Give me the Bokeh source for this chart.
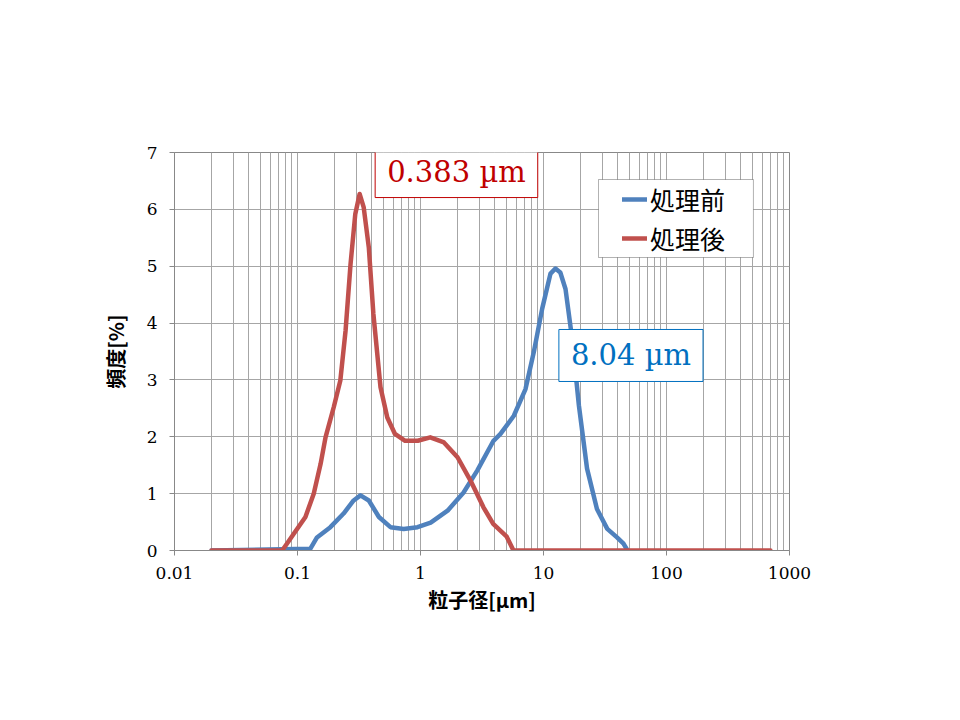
from bokeh.plotting import figure
from bokeh.models import (Range1d, FixedTicker, Legend, LegendItem, Label,
                          BoxAnnotation)
from bokeh.embed import file_html
from bokeh.resources import INLINE

# ---- data ----
before_x = [0.02, 0.127, 0.144, 0.185, 0.237, 0.286, 0.325, 0.38, 0.459, 0.57,
            0.73, 0.946, 1.21, 1.66, 2.24, 2.9, 3.92, 4.47, 5.74, 7.14, 8.34,
            9.75, 11.4, 12.5, 13.7, 15.1, 17.1, 19.4, 22.6, 27.2, 33.0, 39.6,
            44.7, 48.2]
before_y = [0, 0.03, 0.23, 0.41, 0.65, 0.88, 0.97, 0.88, 0.59, 0.41,
            0.38, 0.41, 0.49, 0.7, 1.02, 1.41, 1.93, 2.05, 2.37, 2.84, 3.49,
            4.25, 4.87, 4.96, 4.89, 4.6, 3.72, 2.55, 1.44, 0.73, 0.38, 0.23,
            0.12, 0]

after_x = [0.02, 0.075, 0.082, 0.093, 0.116, 0.1355, 0.154, 0.169, 0.197, 0.223,
           0.246, 0.27, 0.295, 0.32, 0.345, 0.38, 0.414, 0.473, 0.537, 0.62,
           0.75, 0.95, 1.2, 1.55, 2.0, 2.55, 3.25, 3.9, 5.0, 5.7, 700]
after_y = [0, 0, 0.12, 0.29, 0.59, 1.0, 1.52, 1.99, 2.52, 2.99,
           3.87, 5.04, 5.92, 6.27, 6.04, 5.33, 4.16, 2.87, 2.34, 2.05,
           1.93, 1.93, 1.99, 1.9, 1.64, 1.23, 0.76, 0.47, 0.25, 0, 0]

series_names = ["処理前", "処理後"]
peak_labels = ["8.04 µm", "0.383 µm"]

x_ticks = [0.01, 0.1, 1, 10, 100, 1000]
x_tick_labels = ["0.01", "0.1", "1", "10", "100", "1000"]
x_minor = [m * 10.0 ** e for e in range(-2, 3) for m in range(2, 10)]
y_ticks = [0, 1, 2, 3, 4, 5, 6, 7]

x_title = "粒子径[µm]"
y_title = "頻度[%]"

BLUE = "#4F81BD"
RED = "#C0504D"
GRID = "#A6A6A6"
SERIF = "DejaVu Serif"
CJK = "Noto Sans CJK JP"

p = figure(width=958, height=718, x_axis_type="log",
           x_range=Range1d(0.01, 1000), y_range=Range1d(0, 7),
           output_backend="svg", toolbar_location=None,
           min_border_left=174, min_border_right=169,
           min_border_top=152, min_border_bottom=168)

p.background_fill_color = "white"
p.border_fill_color = "white"
p.outline_line_color = "#888888"
p.outline_line_width = 1

# axes
p.xaxis.ticker = FixedTicker(ticks=x_ticks, minor_ticks=x_minor)
p.xaxis.major_label_overrides = dict(zip(x_ticks, x_tick_labels))
p.yaxis.ticker = FixedTicker(ticks=y_ticks)
for ax in (p.xaxis, p.yaxis):
    ax.axis_line_color = "#888888"
    ax.major_tick_line_color = "#888888"
    ax.major_tick_out = 5
    ax.major_tick_in = 0
    ax.minor_tick_out = 0
    ax.minor_tick_in = 0
    ax.major_label_text_font = SERIF
    ax.major_label_text_font_size = "17px"
    ax.major_label_text_color = "black"
    ax.axis_label_text_font = CJK
    ax.axis_label_text_font_style = "bold"
    ax.axis_label_text_font_size = "20px"
    ax.axis_label_text_color = "black"
p.xaxis.major_label_standoff = 11
p.yaxis.major_label_standoff = 12
p.xaxis.axis_label = x_title
p.yaxis.axis_label = y_title
p.xaxis.axis_label_standoff = 3
p.yaxis.axis_label_standoff = 14

# grid
p.xgrid.grid_line_color = GRID
p.xgrid.minor_grid_line_color = GRID
p.ygrid.grid_line_color = GRID
p.xgrid.grid_line_width = 1
p.ygrid.grid_line_width = 1

# lines
r_before = p.line(before_x, before_y, line_color=BLUE, line_width=4.5,
                  line_join="round", line_cap="round")
r_after = p.line(after_x, after_y, line_color=RED, line_width=4.5,
                 line_join="round", line_cap="round")

# legend frame
legend_box = BoxAnnotation(left=28.0, right=509, bottom=5.153, top=6.525,
                           fill_color="white", fill_alpha=1.0,
                           line_color="black", line_width=1)
p.add_layout(legend_box)

legend = Legend(items=[LegendItem(label=series_names[0], renderers=[r_before]),
                       LegendItem(label=series_names[1], renderers=[r_after])],
                location=(448, 294), padding=0, margin=0, spacing=3,
                border_line_color=None, background_fill_alpha=0,
                label_text_font=CJK, label_text_font_size="25px",
                label_text_color="black", label_standoff=3,
                glyph_width=25, glyph_height=36, label_height=36)
p.add_layout(legend)

# peak annotations
lab_after = Label(x=1.96, y=6.665, text=peak_labels[1],
                  text_align="center", text_baseline="middle",
                  text_font=SERIF, text_font_size="29px", text_color="#C00000",
                  background_fill_color="white", border_line_color="#C00000",
                  border_line_width=1,
                  padding=dict(left=12, right=12, top=9, bottom=9))
lab_before = Label(x=51.4, y=3.43, text=peak_labels[0],
                   text_align="center", text_baseline="middle",
                   text_font=SERIF, text_font_size="29px", text_color="#0070C0",
                   background_fill_color="white", border_line_color="#0070C0",
                   border_line_width=1,
                   padding=dict(left=12, right=12, top=9, bottom=9))
p.add_layout(lab_after)
p.add_layout(lab_before)

open("out.html", "w").write(file_html(p, INLINE))
